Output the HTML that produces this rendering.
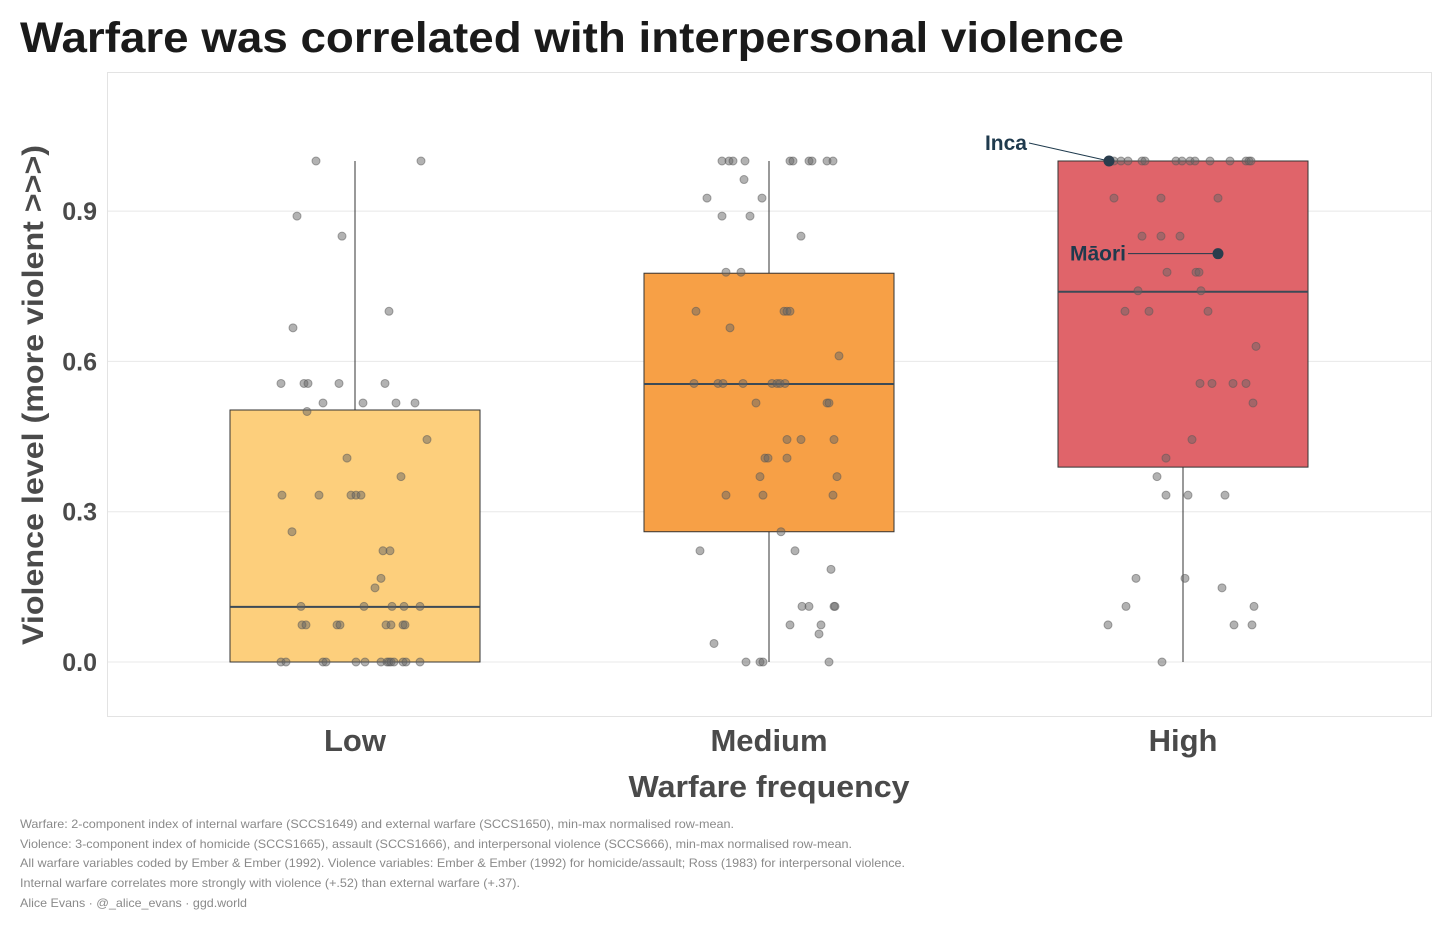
<!DOCTYPE html>
<html><head><meta charset="utf-8"><style>
body{margin:0;background:#fff;font-family:"Liberation Sans",Arial,sans-serif}
svg text{font-family:"Liberation Sans",Arial,sans-serif}
</style></head><body>
<svg id="c" width="1456" height="922" xmlns="http://www.w3.org/2000/svg">
<text x="20" y="52" font-size="43" font-weight="bold" fill="#1a1a1a" textLength="1104" lengthAdjust="spacingAndGlyphs">Warfare was correlated with interpersonal violence</text>
<rect x="107.5" y="72.5" width="1324" height="644" fill="none" stroke="#e3e3e3"/>
<g id="grid"></g><g id="boxes"></g><g id="pts"></g><g id="ann"></g>
<text transform="translate(43,395) rotate(-90)" text-anchor="middle" font-size="30" font-weight="bold" fill="#4a4a4a" textLength="500" lengthAdjust="spacingAndGlyphs">Violence level (more violent &gt;&gt;&gt;)</text>
<text x="769" y="797" text-anchor="middle" font-size="31" font-weight="bold" fill="#4a4a4a" textLength="281" lengthAdjust="spacingAndGlyphs">Warfare frequency</text>
<g font-size="12" fill="#8a8a8a">
<text x="20" y="828" textLength="714" lengthAdjust="spacingAndGlyphs">Warfare: 2-component index of internal warfare (SCCS1649) and external warfare (SCCS1650), min-max normalised row-mean.</text>
<text x="20" y="848" textLength="832" lengthAdjust="spacingAndGlyphs">Violence: 3-component index of homicide (SCCS1665), assault (SCCS1666), and interpersonal violence (SCCS666), min-max normalised row-mean.</text>
<text x="20" y="867" textLength="885" lengthAdjust="spacingAndGlyphs">All warfare variables coded by Ember &amp; Ember (1992). Violence variables: Ember &amp; Ember (1992) for homicide/assault; Ross (1983) for interpersonal violence.</text>
<text x="20" y="887" textLength="500" lengthAdjust="spacingAndGlyphs">Internal warfare correlates more strongly with violence (+.52) than external warfare (+.37).</text>
<text x="20" y="907" textLength="227" lengthAdjust="spacingAndGlyphs">Alice Evans · @_alice_evans · ggd.world</text>
</g>
</svg>
<script>
const categories=["Low","Medium","High"];
const q1=[0,0.26,0.389];
const medians=[0.11,0.555,0.739];
const q3=[0.503,0.776,1.0];
const whiskLo=[0,0,0];
const whiskHi=[1,1,1];
const yTicks=[0,0.3,0.6,0.9];
const yTickLabels=["0.0","0.3","0.6","0.9"];
const lowVals=[1,1,.89,.85,.70,.667,.556,.556,.556,.556,.556,.517,.517,.517,.517,.5,.444,.407,.37,.333,.333,.333,.333,.333,.26,.222,.222,.167,.148,.111,.111,.111,.111,.111,.074,.074,.074,.074,.074,.074,.074,.074,0,0,0,0,0,0,0,0,0,0,0,0,0,0];
const lowJit=[-39,66,-58,-13,34,-62,-74,-51,-47,-16,30,-32,8,41,60,-48,72,-8,46,-73,-36,-4,1,6,-63,28,35,26,20,-54,9,37,49,65,-53,-49,-18,-15,31,36,48,50,-74,-69,-32,-29,1,10,26,32,34,36,39,48,51,65];
const medVals=[1,1,1,1,1,1,1,1,1,1,.963,.926,.926,.89,.89,.85,.778,.778,.70,.70,.70,.70,.667,.611,.556,.556,.556,.556,.556,.556,.556,.556,.517,.517,.517,.444,.444,.444,.407,.407,.407,.37,.37,.333,.333,.333,.26,.222,.222,.185,.111,.111,.111,.111,.074,.074,.056,.037,0,0,0,0];
const medJit=[-47,-40,-36,-24,21,24,40,43,58,64,-25,-62,-7,-47,-19,32,-43,-28,-73,15,18,21,-39,70,-75,-51,-46,-26,3,8,11,16,-13,58,60,18,32,65,-4,-1,18,-9,68,-43,-6,64,12,-69,26,62,33,40,65,66,21,52,50,-55,-23,-9,-6,60];
const highVals=[1,1,1,1,1,1,1,1,1,1,1,1,1,1,.926,.926,.926,.85,.85,.85,.778,.778,.778,.741,.741,.70,.70,.70,.63,.556,.556,.556,.556,.517,.444,.407,.37,.333,.333,.333,.167,.167,.148,.111,.111,.074,.074,.074,0];
const highJit=[-69,-62,-55,-41,-38,-7,-1,7,12,27,47,63,66,68,-69,-22,35,-41,-22,-3,-16,13,16,-45,18,-58,-34,25,73,17,29,50,63,70,9,-17,-26,-17,5,42,-47,2,39,-57,71,-75,51,69,-21];
const highlightNames=["Inca","Māori"];
const highlightVals=[1.0,0.815];
const highlightJit=[-74,35];
const allVals=[lowVals,medVals,highVals];
const allJit=[lowJit,medJit,highJit];
const fills=["#fdcf7c","#f7a046","#e0646a"];
const NS="http://www.w3.org/2000/svg";
const y=v=>662-v*501;
const x=i=>355+i*414;
const BW=125;
const G=document.getElementById('grid'),B=document.getElementById('boxes'),P=document.getElementById('pts'),A=document.getElementById('ann'),S=document.getElementById('c');
function el(tag,attrs,par){const e=document.createElementNS(NS,tag);for(const k in attrs)e.setAttribute(k,attrs[k]);par.appendChild(e);return e;}
yTicks.forEach((t,i)=>{
 const l=el('line',{x1:108,x2:1431,y1:y(t),y2:y(t),stroke:'#e8e8e8','stroke-width':1},G);
 
 
 const tx=el('text',{x:97,y:y(t)+9,'text-anchor':'end','font-size':25,'font-weight':'bold',fill:'#4a4a4a'},S);
 tx.textContent=yTickLabels[i];
 
 
});
categories.forEach((c,i)=>{
 const cx=x(i);
 const w=el('line',{x1:cx,x2:cx,y1:y(whiskHi[i]),y2:y(whiskLo[i]),stroke:'#333','stroke-width':1},B);
 
 
 const r=el('rect',{x:cx-BW,y:y(q3[i]),width:2*BW,height:y(q1[i])-y(q3[i]),fill:fills[i],stroke:'#333','stroke-width':1},B);
 
 
 const m=el('line',{x1:cx-BW,x2:cx+BW,y1:y(medians[i]),y2:y(medians[i]),stroke:'#3c4a56','stroke-width':2},B);
 
 
 allVals[i].forEach((v,j)=>{
  const p=el('circle',{cx:cx+allJit[i][j],cy:y(v),r:4,fill:'#666','fill-opacity':0.5,stroke:'#555','stroke-opacity':0.5},P);
  
  
 });
 const t=el('text',{x:cx,y:751,'text-anchor':'middle','font-size':31,'font-weight':'bold',fill:'#4a4a4a'},S);
 t.textContent=c;
 
 
});
highlightNames.forEach((n,k)=>{
 const px=x(2)+highlightJit[k],py=y(highlightVals[k]);
 const lx=k==0?px-80:px-90,ly=k==0?py-18:py;
 const l=el('line',{x1:lx,y1:ly,x2:px,y2:py,stroke:'#1f3a4d','stroke-width':1},A);
 
 
 const c=el('circle',{cx:px,cy:py,r:5.5,fill:'#2a3d4d'},A);
 
 
 const t=el('text',{x:lx-2,y:ly+7,'text-anchor':'end','font-size':21,'font-weight':'bold',fill:'#1f3a4d'},A);
 t.textContent=n;
 
 
});
</script>
</body></html>
